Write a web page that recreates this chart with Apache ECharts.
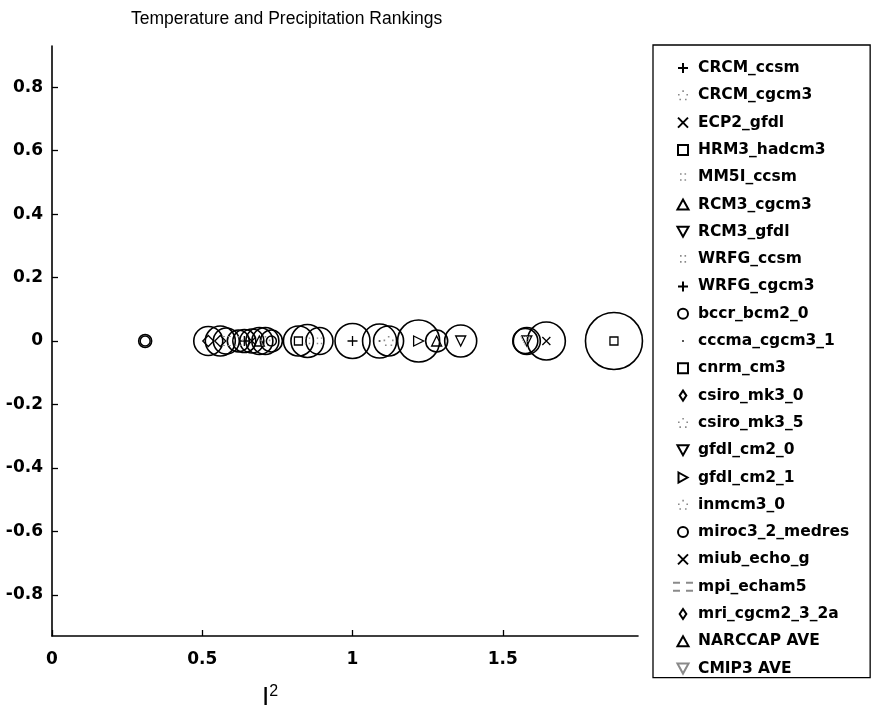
<!DOCTYPE html>
<html><head><meta charset="utf-8">
<script src="https://cdn.jsdelivr.net/npm/echarts@6/dist/echarts.min.js"></script>
<style>html,body{margin:0;padding:0;background:#fff}#c{width:873px;height:708px}</style>
</head><body><div id="c"></div>
<script>
// ---- data ----
const models = ['CRCM_ccsm','CRCM_cgcm3','ECP2_gfdl','HRM3_hadcm3','MM5I_ccsm','RCM3_cgcm3','RCM3_gfdl','WRFG_ccsm','WRFG_cgcm3','bccr_bcm2_0','cccma_cgcm3_1','cnrm_cm3','csiro_mk3_0','csiro_mk3_5','gfdl_cm2_0','gfdl_cm2_1','inmcm3_0','miroc3_2_medres','miub_echo_g','mpi_echam5','mri_cgcm2_3_2a','NARCCAP AVE','CMIP3 AVE'];
const r2 = [1.00, 1.12, 1.645, 1.87, 0.85, 0.69, 1.58, 0.89, 0.64, 0.31, 1.09, 0.82, 0.52, 0.71, 1.36, 1.22, 0.62, 0.73, 0.665, 0.58, 0.56, 1.28, 1.575];
const ranking = [0, 0, 0, 0, 0, 0, 0, 0, 0, 0, 0, 0, 0, 0, 0, 0, 0, 0, 0, 0, 0, 0, 0];
const spread = [0.35, 0.30, 0.38, 0.57, 0.33, 0.27, 0.27, 0.27, 0.23, 0.13, 0.34, 0.30, 0.29, 0.27, 0.32, 0.42, 0.22, 0.22, 0.24, 0.26, 0.30, 0.22, 0.25];
const xTicks = [0, 0.5, 1, 1.5];
const yTicks = [-0.8, -0.6, -0.4, -0.2, 0, 0.2, 0.4, 0.6, 0.8];
const titleText = 'Temperature and Precipitation Rankings';
const xName = '{i|I}{s|2}';

// ---- styles ----
const DOTS5 = 'path://M0,0M10,10M4.3,0h1.6v1.6h-1.6z M0,3.6h1.6v1.6h-1.6z M8.4,3.6h1.6v1.6h-1.6z M1.4,8.4h1.6v1.6h-1.6z M7,8.4h1.6v1.6h-1.6z';
const DOTS4 = 'path://M0,0M10,10M2,1h1.6v1.6h-1.6z M6.5,1h1.6v1.6h-1.6z M2,7h1.6v1.6h-1.6z M6.5,7h1.6v1.6h-1.6z';
const DOT1 = 'path://M0,0M10,10M4.1,4.1h1.8v1.8h-1.8z';
const T = 'rgba(0,0,0,0)';
const SYM = {
  plus:   {p:'path://M5,0L5,10M0,5L10,5', s:10, stroke:'#000', fill:T, t:'solid', w:1.3},
  cross:  {p:'path://M0,0L10,10M10,0L0,10', s:8, stroke:'#000', fill:T, t:'solid', w:1.3},
  square: {p:'path://M0,0L10,0L10,10L0,10Z', s:8, stroke:'#000', fill:T, t:'solid', w:1.3},
  circ:   {p:'circle', s:10, stroke:'#000', fill:T, t:'solid', w:1.5},
  diam:   {p:'path://M4,0L8,6L4,12L0,6Z', s:11, stroke:'#000', fill:T, t:'solid', w:1.3},
  triU:   {p:'path://M5,0L10,9L0,9Z', s:10, stroke:'#000', fill:T, t:'solid', w:1.3},
  triD:   {p:'path://M0,0L10,0L5,9Z', s:10, stroke:'#000', fill:T, t:'solid', w:1.3},
  triR:   {p:'path://M0,0L9,5L0,10Z', s:10, stroke:'#000', fill:T, t:'solid', w:1.3},
  dots5:  {p:DOTS5, s:10, stroke:T, fill:'#8a8a8a', t:'solid', w:0},
  dots4:  {p:DOTS4, s:9, stroke:T, fill:'#8a8a8a', t:'solid', w:0},
  dot:    {p:DOT1, s:10, stroke:T, fill:'#444', t:'solid', w:0},
  dash:   {p:'path://M0,3L3.5,3M6.5,3L10,3M0,7L3.5,7M6.5,7L10,7', s:9, stroke:'#8a8a8a', fill:T, t:'solid', w:1},
  triDf:  {p:'path://M0,0L10,0L5,9Z', s:9, stroke:'#8a8a8a', fill:T, t:'dotted', w:1}
};
const markerOf = ['plus','dots5','cross','square','dots4','triU','triD','dots4','plus','circ','dot','square','diam','dots5','triD','triR','dots5','circ','cross','dash','diam','triU','triDf'];

const chart = echarts.init(document.getElementById('c'), null, {renderer:'canvas'});
const series = models.map((m, i) => {
  const s = SYM[markerOf[i]];
  return {
    name: m, type: 'scatter', silent: true, z: 3,
    data: [[r2[i], ranking[i]]],
    symbol: s.p, symbolSize: s.s,
    itemStyle: {color: s.fill, borderColor: s.stroke, borderWidth: s.w, borderType: s.t, opacity: 1}
  };
});
series.push({
  name: 'spread', type: 'scatter', silent: true, z: 2,
  data: models.map((m, i) => [r2[i], ranking[i], spread[i]]),
  symbol: 'circle', symbolSize: v => v[2] * 100,
  itemStyle: {color: T, borderColor: '#000', borderWidth: 1.6, opacity: 1}
});

const tickFont = {fontFamily: 'DejaVu Sans', fontSize: 17, fontWeight: 'bold', color: '#000'};
const fmt = v => String(+(+v).toFixed(1));
chart.setOption({
  animation: false,
  backgroundColor: '#fff',
  title: {text: titleText, left: 126, top: 5,
    textStyle: {fontFamily: 'Liberation Sans', fontSize: 17.5, fontWeight: 'normal', color: '#000'}},
  grid: {left: 52, right: 235, top: 46, bottom: 72, outerBoundsMode: 'none', containLabel: false},
  xAxis: {type: 'value', min: 0, max: 1.95,
    name: xName, nameLocation: 'middle', nameGap: 48,
    nameTextStyle: {padding: [0, 150, 0, 0],
      rich: {i: {fontFamily: 'Liberation Sans', fontSize: 26, color: '#000'},
             s: {fontFamily: 'Liberation Sans', fontSize: 16, color: '#000', verticalAlign: 'top', padding: [0, 0, 12, 0]}}},
    axisLine: {show: true, onZero: false, lineStyle: {color: '#000', width: 1.6}},
    axisTick: {show: true, inside: true, length: 6, customValues: xTicks, lineStyle: {color: '#000', width: 1.3}},
    axisLabel: Object.assign({customValues: xTicks, formatter: fmt, margin: 15}, tickFont),
    splitLine: {show: false}},
  yAxis: {type: 'value', min: -0.93, max: 0.93,
    axisLine: {show: true, onZero: false, lineStyle: {color: '#000', width: 1.6}},
    axisTick: {show: true, inside: true, length: 6, customValues: yTicks, lineStyle: {color: '#000', width: 1.3}},
    axisLabel: Object.assign({customValues: yTicks, formatter: fmt, margin: 9}, tickFont),
    splitLine: {show: false}},
  legend: {
    data: models, orient: 'vertical', left: 653, top: 45,
    itemWidth: 20, itemHeight: 10, itemGap: 11.3,
    padding: [15, 21, 1, 19],
    borderColor: '#000', borderWidth: 1.3, backgroundColor: '#fff',
    selectedMode: false,
    textStyle: {fontFamily: 'DejaVu Sans', fontSize: 15.5, fontWeight: 'bold', color: '#000'}
  },
  series: series
});
</script></body></html>
